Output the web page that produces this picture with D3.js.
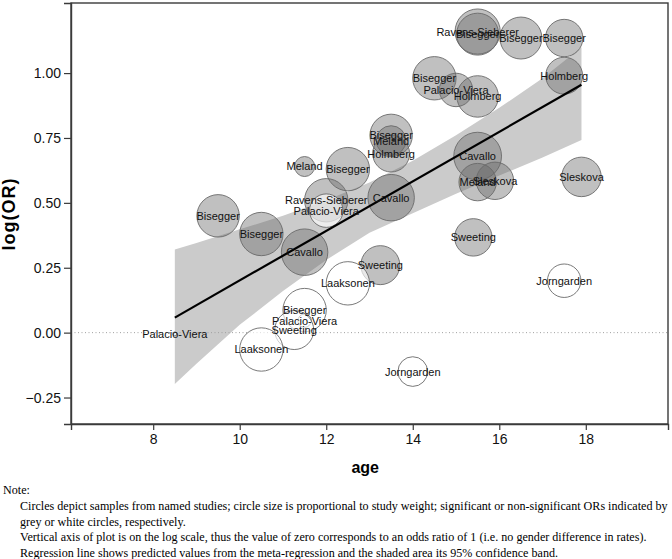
<!DOCTYPE html>
<html>
<head>
<meta charset="utf-8">
<script src="https://cdn.jsdelivr.net/npm/d3@7"></script>
<style>
  body { margin: 0; background: #fff; }
  svg { display: block; }
</style>
</head>
<body>
<svg id="chart" width="672" height="559"></svg>
<script>
// Studies (one circle each)
const studies = ["Bisegger", "Bisegger", "Cavallo", "Meland", "Bisegger", "Ravens-Sieberer", "Palacio-Viera",
  "Cavallo", "Bisegger", "Meland", "Holmberg", "Bisegger", "Palacio-Viera", "Holmberg", "Ravens-Sieberer",
  "Bisegger", "Bisegger", "Bisegger", "Holmberg", "Cavallo", "Meland", "Sleskova", "Sleskova", "Sweeting",
  "Sweeting", "Laaksonen", "Jorngarden", "Jorngarden", "Bisegger", "Palacio-Viera", "Sweeting", "Laaksonen",
  "Palacio-Viera"];
const ages = [9.5, 10.5, 11.5, 11.5, 12.5, 12.0, 12.0,
  13.5, 13.5, 13.5, 13.5, 14.5, 15.0, 15.5, 15.5,
  15.5, 16.5, 17.5, 17.5, 15.5, 15.5, 15.9, 17.9, 15.4,
  13.25, 12.5, 17.5, 14.0, 11.5, 11.5, 11.26, 10.5,
  8.5];
const logOR = [0.45, 0.38, 0.31, 0.64, 0.63, 0.51, 0.47,
  0.52, 0.76, 0.74, 0.69, 0.98, 0.935, 0.91, 1.16,
  1.15, 1.135, 1.135, 0.99, 0.68, 0.58, 0.585, 0.60, 0.367,
  0.26, 0.19, 0.20, -0.15, 0.087, 0.046, 0.01, -0.065,
  -0.005];
const weights = [4.5, 4.7, 5.4, 1.0, 4.7, 4.7, 2.8,
  5.4, 4.5, 2.2, 3.4, 4.7, 2.8, 4.3, 5.1,
  4.4, 4.4, 3.5, 3.4, 5.7, 3.5, 3.5, 3.9, 3.5,
  3.8, 4.7, 2.8, 2.2, 4.7, 0.45, 3.8, 4.7,
  0.04];
const significant = [1, 1, 1, 1, 1, 1, 0,
  1, 1, 1, 1, 1, 1, 1, 1,
  1, 1, 1, 1, 1, 1, 1, 1, 1,
  1, 0, 0, 0, 0, 0, 0, 0,
  0];

// Meta-regression line and its 95% band
const lineAge = [8.5, 17.9];
const lineFit = [0.058, 0.955];
const bandAge = [8.5, 9, 10, 11, 12, 13, 14, 15, 16, 17, 17.9];
const bandUpper = [0.32, 0.345, 0.398, 0.45, 0.51, 0.578, 0.662, 0.76, 0.866, 0.98, 1.10];
const bandLower = [-0.198, -0.12, 0.03, 0.16, 0.28, 0.385, 0.46, 0.535, 0.605, 0.675, 0.742];

const xTicks = [8, 10, 12, 14, 16, 18];
const yTicks = [-0.25, 0, 0.25, 0.5, 0.75, 1.0];

const noteLines = [
  "Circles depict samples from named studies; circle size is proportional to study weight; significant or non-significant ORs indicated by",
  "grey or white circles, respectively.",
  "Vertical axis of plot is on the log scale, thus the value of zero corresponds to an odds ratio of 1 (i.e. no gender difference in rates).",
  "Regression line shows predicted values from the meta-regression and the shaded area its 95% confidence band."
];

const margin = { top: 3, right: 4, bottom: 135, left: 71 };
const width = 672, height = 559;
const innerW = width - margin.left - margin.right;
const innerH = height - margin.top - margin.bottom;

const svg = d3.select("#chart");
const g = svg.append("g").attr("transform", `translate(${margin.left},${margin.top})`);

const x = d3.scaleLinear().domain([6.1, 19.9]).range([0, innerW]);
const y = d3.scaleLinear().domain([-0.352, 1.27]).range([innerH, 0]);
const r = d3.scaleSqrt().domain([0, 1]).range([0, 10]);

// Confidence band
const band = bandAge.map((a, i) => ({ age: a, lo: bandLower[i], hi: bandUpper[i] }));
g.append("path")
  .datum(band)
  .attr("fill", "#cbcbcb")
  .attr("d", d3.area().x(d => x(d.age)).y0(d => y(d.lo)).y1(d => y(d.hi)));

// Zero reference line
g.append("line")
  .attr("x1", 0).attr("x2", innerW)
  .attr("y1", y(0)).attr("y2", y(0))
  .attr("stroke", "#a0a0a0")
  .attr("stroke-width", 1)
  .attr("stroke-dasharray", "1,2.5");

// Study circles
const points = studies.map((s, i) => ({
  name: s, age: ages[i], lor: logOR[i], w: weights[i], sig: significant[i]
}));

g.selectAll(".study")
  .data(points)
  .enter().append("circle")
  .attr("class", "study")
  .attr("cx", d => x(d.age))
  .attr("cy", d => y(d.lor))
  .attr("r", d => r(d.w))
  .attr("fill", d => d.sig ? "#696969" : "#ffffff")
  .attr("fill-opacity", d => d.sig ? 0.42 : 0.65)
  .attr("stroke", "#6a6a6a")
  .attr("stroke-width", 0.9);

// Regression line
g.append("path")
  .datum(lineAge.map((a, i) => [a, lineFit[i]]))
  .attr("fill", "none")
  .attr("stroke", "#000")
  .attr("stroke-width", 2.2)
  .attr("d", d3.line().x(d => x(d[0])).y(d => y(d[1])));

// Labels
g.selectAll(".label")
  .data(points)
  .enter().append("text")
  .attr("class", "label")
  .attr("x", d => x(d.age))
  .attr("y", d => y(d.lor))
  .attr("dy", "0.36em")
  .attr("text-anchor", "middle")
  .style("font-family", "'Liberation Sans', Arial, sans-serif")
  .style("font-size", "11px")
  .attr("fill", "#111")
  .text(d => d.name);

// Frame
g.append("rect")
  .attr("width", innerW).attr("height", innerH)
  .attr("fill", "none")
  .attr("stroke", "#3a3a3a")
  .attr("stroke-width", 1.4);

// Axes
const xAxis = g.append("g")
  .attr("transform", `translate(0,${innerH})`)
  .call(d3.axisBottom(x).tickValues(xTicks).tickSize(6).tickPadding(4).tickFormat(d3.format("d")));
const yAxis = g.append("g")
  .call(d3.axisLeft(y).tickValues(yTicks).tickSize(7).tickPadding(3).tickFormat(d3.format(".2f")));

[xAxis, yAxis].forEach(ax => {
  ax.select(".domain").attr("stroke", "#3a3a3a").attr("stroke-width", 1.4);
  ax.selectAll(".tick line").attr("stroke", "#3a3a3a").attr("stroke-width", 1.2);
  ax.selectAll(".tick text")
    .attr("fill", "#111")
    .style("font-family", "'Liberation Sans', Arial, sans-serif")
    .style("font-size", "14px");
});

// Axis titles
svg.append("text")
  .attr("x", margin.left + x(12.9))
  .attr("y", 473)
  .attr("text-anchor", "middle")
  .style("font-family", "'Liberation Sans', Arial, sans-serif")
  .style("font-size", "16px")
  .style("font-weight", "bold")
  .text("age");

svg.append("text")
  .attr("transform", "translate(15,214) rotate(-90)")
  .attr("text-anchor", "middle")
  .style("font-family", "'Liberation Sans', Arial, sans-serif")
  .style("font-size", "18px")
  .style("font-weight", "bold")
  .style("letter-spacing", "1px")
  .text("log(OR)");

// Note
const note = svg.append("g")
  .style("font-family", "'Liberation Serif', 'Times New Roman', serif")
  .style("font-size", "12.1px")
  .attr("fill", "#000");
note.append("text").attr("x", 3).attr("y", 494).text("Note:");
note.selectAll(".note-line")
  .data(noteLines)
  .enter().append("text")
  .attr("class", "note-line")
  .attr("x", 20)
  .attr("y", (d, i) => 510 + i * 15.5)
  .text(d => d);
</script>
</body>
</html>
